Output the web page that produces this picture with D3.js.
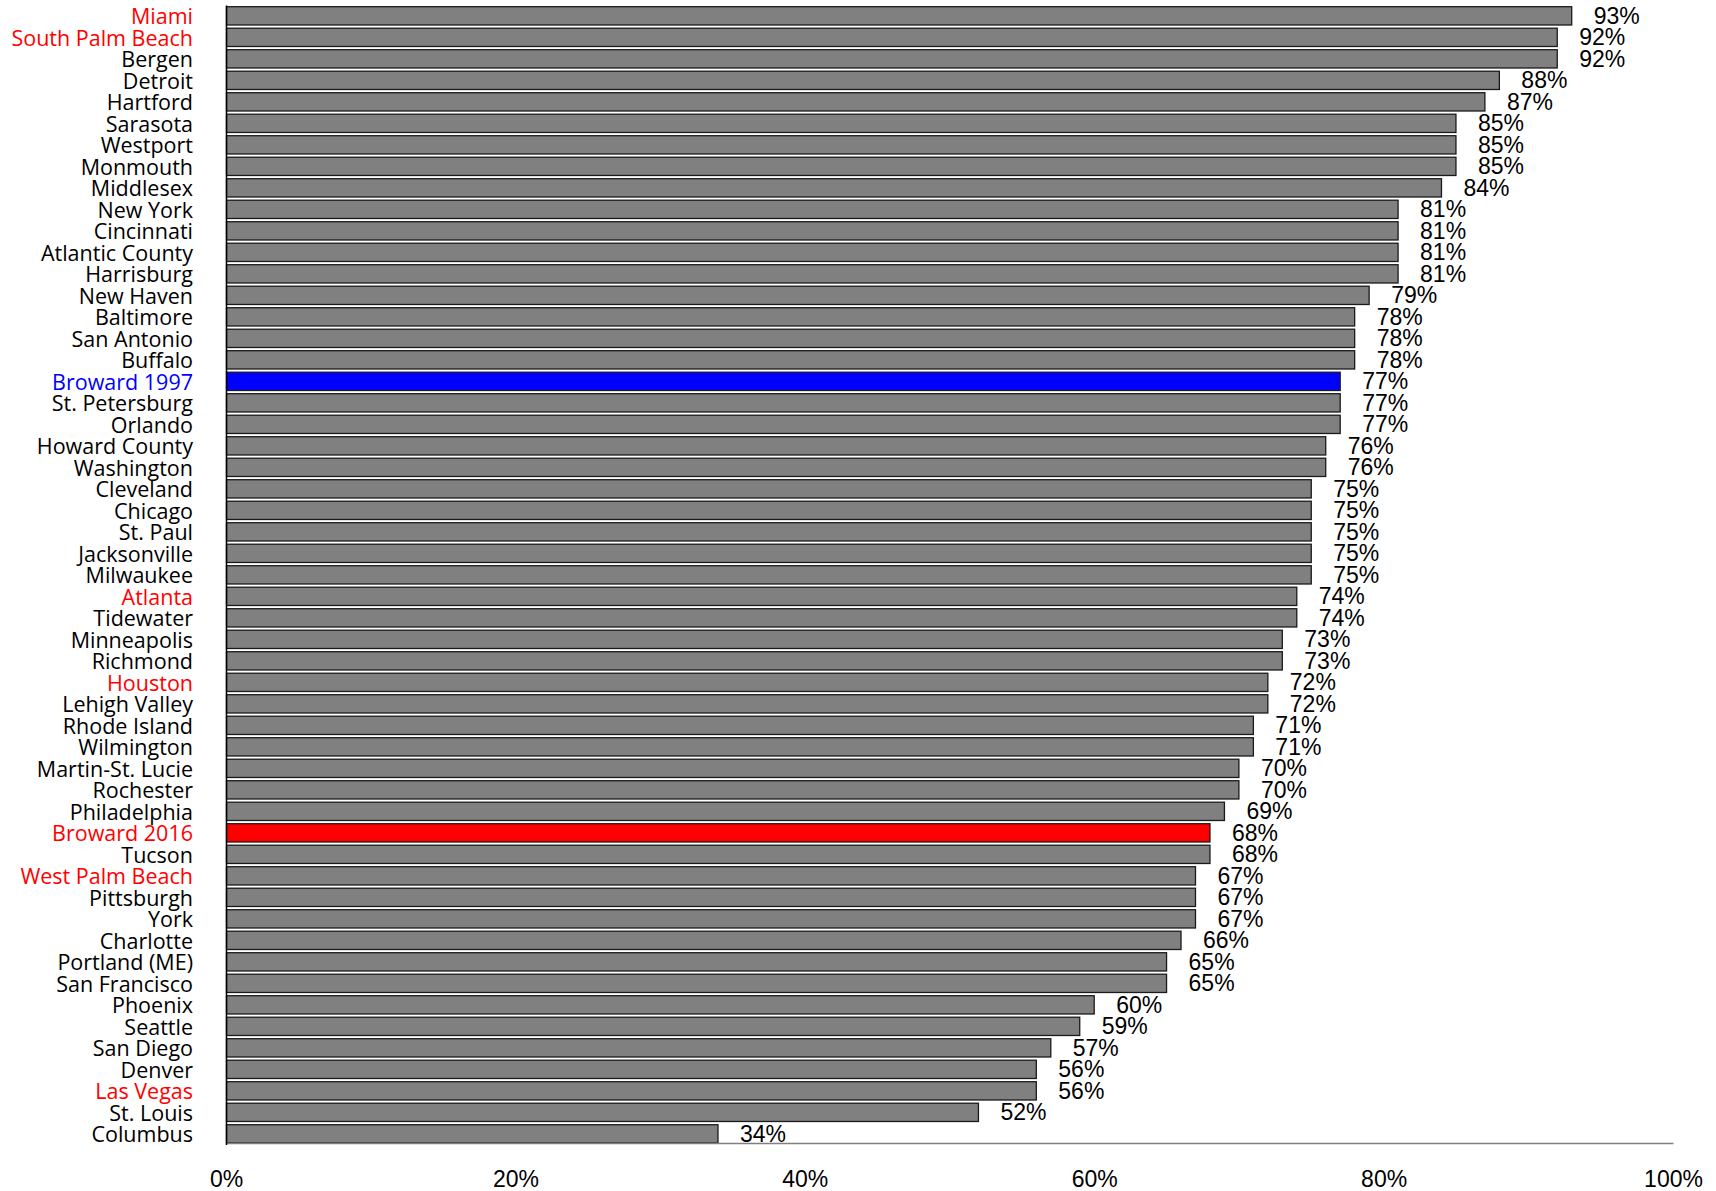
<!DOCTYPE html>
<html><head><meta charset="utf-8">
<script src="https://cdn.jsdelivr.net/npm/d3@7"></script>
<style>html,body{margin:0;padding:0;background:#fff;}</style>
</head><body>
<svg id="chart" width="1716" height="1191"></svg>
<script>
const categories = ["Miami","South Palm Beach","Bergen","Detroit","Hartford","Sarasota","Westport","Monmouth","Middlesex","New York","Cincinnati","Atlantic County","Harrisburg","New Haven","Baltimore","San Antonio","Buffalo","Broward 1997","St. Petersburg","Orlando","Howard County","Washington","Cleveland","Chicago","St. Paul","Jacksonville","Milwaukee","Atlanta","Tidewater","Minneapolis","Richmond","Houston","Lehigh Valley","Rhode Island","Wilmington","Martin-St. Lucie","Rochester","Philadelphia","Broward 2016","Tucson","West Palm Beach","Pittsburgh","York","Charlotte","Portland (ME)","San Francisco","Phoenix","Seattle","San Diego","Denver","Las Vegas","St. Louis","Columbus"];
const values = [93,92,92,88,87,85,85,85,84,81,81,81,81,79,78,78,78,77,77,77,76,76,75,75,75,75,75,74,74,73,73,72,72,71,71,70,70,69,68,68,67,67,67,66,65,65,60,59,57,56,56,52,34];
const redLabels = ["Miami","South Palm Beach","Atlanta","Houston","Broward 2016","West Palm Beach","Las Vegas"];
const blueLabels = ["Broward 1997"];
const tickValues = [0,20,40,60,80,100];

const data = categories.map((c,i)=>({c, v: values[i]}));
const svg = d3.select("#chart");
const x0 = 226, x1 = 1673, yTop = 5.1, yBot = 1144.6;
const x = d3.scaleLinear().domain([0,100]).range([x0,x1]);
const y = d3.scaleBand().domain(categories).range([yTop,yBot]).paddingInner(0.15).paddingOuter(0.075);

function fillFor(c){ if (c==="Broward 1997") return "#0000ff"; if (c==="Broward 2016") return "#ff0000"; return "#808080"; }
function labelColor(c){ if (blueLabels.includes(c)) return "#0000ff"; if (redLabels.includes(c)) return "#ff0000"; return "#000"; }

svg.selectAll("rect.bar").data(data).join("rect")
  .attr("class","bar")
  .attr("x", x(0)+0.5)
  .attr("y", d=>y(d.c))
  .attr("width", d=>x(d.v)-x(0)-0.5)
  .attr("height", y.bandwidth())
  .attr("fill", d=>fillFor(d.c))
  .attr("stroke", "#1a1a1a")
  .attr("stroke-width", 1.3);

svg.selectAll("text.val").data(data).join("text")
  .attr("class","val")
  .attr("x", d=>x(d.v)+22)
  .attr("y", d=>y(d.c)+y.bandwidth()/2)
  .attr("dominant-baseline","central")
  .style("font-family","'Liberation Sans', Arial, sans-serif")
  .style("font-size","23px")
  .attr("fill","#000")
  .text(d=>d.v+"%");

// bottom axis
const gx = svg.append("g").attr("transform",`translate(0,${1143})`)
  .call(d3.axisBottom(x).tickValues(tickValues).tickFormat(d=>d+"%").tickSize(0).tickPadding(28));
gx.select(".domain").attr("stroke","#808080").attr("stroke-width",1.5);
gx.selectAll("text").style("font-family","'Liberation Sans', Arial, sans-serif").style("font-size","23px").attr("fill","#000")
  .attr("dy","0.71em");

// left axis
const gy = svg.append("g").attr("transform",`translate(${x0},0)`)
  .call(d3.axisLeft(y).tickSize(0).tickPadding(33));
gy.select(".domain").attr("stroke","#000").attr("stroke-width",1.5);
gy.selectAll("text").style("font-family","'Open Sans', sans-serif").style("font-size","21.5px")
  .attr("fill", d=>labelColor(d)).attr("dy","0.38em");
</script>
</body></html>
